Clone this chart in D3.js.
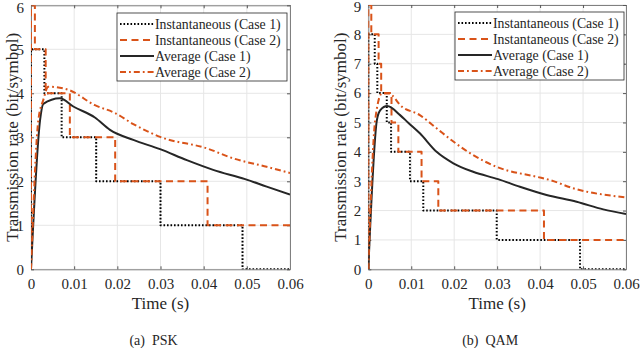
<!DOCTYPE html>
<html>
<head>
<meta charset="utf-8">
<script src="https://cdn.jsdelivr.net/npm/d3@7/dist/d3.min.js"></script>
<style>
html,body{margin:0;padding:0;background:#fff;}
svg{display:block;}
text{font-family:"Liberation Serif","Times New Roman",serif;fill:#262626;}
</style>
</head>
<body>
<svg id="chart" width="640" height="348"></svg>
<script>
// ---- data ----
const xTicks = [0, 0.01, 0.02, 0.03, 0.04, 0.05, 0.06];
const xTickLabels = ["0", "0.01", "0.02", "0.03", "0.04", "0.05", "0.06"];
const pskYTicks = [0, 1, 2, 3, 4, 5, 6];
const qamYTicks = [0, 1, 2, 3, 4, 5, 6, 7, 8, 9];
const seriesNames = ["Instantaneous (Case 1)", "Instantaneous (Case 2)", "Average (Case 1)", "Average (Case 2)"];
const captions = ["(a)  PSK", "(b)  QAM"];

// PSK, [time (s), rate]
const pskInst1 = [[0,0],[0,5],[0.0031,4],[0.0071,3],[0.0151,2],[0.0300,1],[0.0490,0],[0.06,0]];
const pskInst2 = [[0,0],[0,6],[0.0009,5],[0.0034,4],[0.0090,3],[0.0195,2],[0.0409,1],[0.06,1]];
const pskAvg1 = [[0,0],[0.0021,3.39],[0.00285,3.76],[0.0067,3.89],[0.0098,3.70],[0.0148,3.45],[0.0183,3.17],[0.0237,2.94],[0.0299,2.73],[0.0361,2.48],[0.0422,2.26],[0.0496,2.05],[0.0546,1.88],[0.06,1.70]];
const pskAvg2 = [[0,0],[0.0017,3.39],[0.00285,3.85],[0.0040,4.15],[0.0086,4.08],[0.0148,3.73],[0.0195,3.55],[0.0237,3.30],[0.0299,3.01],[0.0407,2.75],[0.0469,2.52],[0.0546,2.33],[0.06,2.19]];

// QAM, [time (s), rate]
const qamInst1 = [[0,0],[0,8],[0.0015,7],[0.0021,6],[0.0043,5],[0.0053,4],[0.0097,3],[0.0128,2],[0.0299,1],[0.0493,0],[0.06,0]];
const qamInst2 = [[0,0],[0,9],[0.0007,8],[0.0024,7],[0.0030,6],[0.0054,5],[0.0070,4],[0.0124,3],[0.0163,2],[0.0409,1],[0.06,1]];
const qamAvg1 = [[0,0],[0.0020,5.08],[0.0028,5.42],[0.0044,5.56],[0.0074,5.25],[0.0093,4.99],[0.0120,4.63],[0.0159,4.00],[0.0198,3.61],[0.0244,3.32],[0.0302,3.07],[0.0353,2.81],[0.0415,2.53],[0.0485,2.30],[0.0547,2.04],[0.06,1.88]];
const qamAvg2 = [[0,0],[0.0016,5.08],[0.0032,5.99],[0.0047,5.99],[0.0078,5.54],[0.0120,5.25],[0.0159,4.80],[0.0198,4.35],[0.0244,3.89],[0.0302,3.47],[0.0392,3.15],[0.0423,3.04],[0.0477,2.76],[0.06,2.45]];

// ---- drawing ----
const svg = d3.select("#chart");
const ORANGE = "#D95319";
const FONT = '"Liberation Serif", "Times New Roman", serif';
const styles = [
  {color:"#000", dash:"1.6,1.9", width:2, step:true},
  {color:ORANGE, dash:"7,4.5", width:2, step:true},
  {color:"#262626", dash:null, width:2, step:false},
  {color:ORANGE, dash:"6,3,1.8,3", width:2, step:false}
];

const panels = [
  {x0:31, x1:290, y0:269.3, y1:5.3, yMax:6, yTicks:pskYTicks, series:[pskInst1,pskInst2,pskAvg1,pskAvg2],
   legend:{x:117, y:13, w:170, h:68}, ylabelX:12, caption:captions[0]},
  {x0:368.3, x1:626, y0:269.3, y1:5, yMax:9, yTicks:qamYTicks, series:[qamInst1,qamInst2,qamAvg1,qamAvg2],
   legend:{x:455, y:12, w:169, h:68}, ylabelX:340, caption:captions[1]}
];

panels.forEach((p, i) => {
  const x = d3.scaleLinear().domain([0, 0.06]).range([p.x0, p.x1]);
  const y = d3.scaleLinear().domain([0, p.yMax]).range([p.y0, p.y1]);
  const g = svg.append("g");
  const clipId = "clip" + i;
  svg.append("clipPath").attr("id", clipId).append("rect")
    .attr("x", p.x0).attr("y", p.y1).attr("width", p.x1 - p.x0).attr("height", p.y0 - p.y1);

  // grid
  g.append("g").selectAll("line").data(xTicks).join("line")
    .attr("x1", d => x(d)).attr("x2", d => x(d)).attr("y1", p.y0).attr("y2", p.y1)
    .attr("stroke", "#e6e6e6").attr("stroke-width", 1);
  g.append("g").selectAll("line").data(p.yTicks).join("line")
    .attr("y1", d => y(d)).attr("y2", d => y(d)).attr("x1", p.x0).attr("x2", p.x1)
    .attr("stroke", "#e6e6e6").attr("stroke-width", 1);

  // axes (ticks inside)
  const xAxis = d3.axisBottom(x).tickValues(xTicks).tickFormat((d, k) => xTickLabels[k]).tickSizeInner(-3).tickSizeOuter(0).tickPadding(9);
  const ax = g.append("g").attr("transform", `translate(0,${p.y0})`).call(xAxis);
  const xAxisTop = d3.axisTop(x).tickValues(xTicks).tickFormat("").tickSizeInner(-3).tickSizeOuter(0);
  const axT = g.append("g").attr("transform", `translate(0,${p.y1})`).call(xAxisTop);
  const yAxis = d3.axisLeft(y).tickValues(p.yTicks).tickFormat(d3.format("d")).tickSizeInner(-3).tickSizeOuter(0).tickPadding(7);
  const ay = g.append("g").attr("transform", `translate(${p.x0},0)`).call(yAxis);
  const yAxisR = d3.axisRight(y).tickValues(p.yTicks).tickFormat("").tickSizeInner(-3).tickSizeOuter(0);
  const ayR = g.append("g").attr("transform", `translate(${p.x1},0)`).call(yAxisR);
  [ax, axT, ay, ayR].forEach(a => {
    a.attr("font-family", FONT);
    a.select(".domain").attr("stroke", "#808080").attr("stroke-width", 1);
    a.selectAll(".tick line").attr("stroke", "#555");
    a.selectAll("text").attr("font-size", 15).attr("fill", "#262626").attr("font-family", FONT);
  });
  // keep the top y tick label inside the picture
  ay.selectAll(".tick text").filter(d => d === p.yMax).attr("dy", "0.45em");

  // series
  const lg = g.append("g").attr("clip-path", `url(#${clipId})`);
  p.series.forEach((data, k) => {
    const st = styles[k];
    const line = d3.line().x(d => x(d[0])).y(d => y(d[1]))
      .curve(st.step ? d3.curveStepAfter : d3.curveMonotoneX);
    lg.append("path").datum(data).attr("d", line)
      .attr("fill", "none").attr("stroke", st.color).attr("stroke-width", st.width)
      .attr("stroke-dasharray", st.dash).attr("stroke-linejoin", "round");
  });

  // labels
  g.append("text").attr("x", (p.x0 + p.x1) / 2).attr("y", 309).attr("text-anchor", "middle")
    .attr("font-family", FONT).attr("font-size", 17).text("Time (s)");
  g.append("text").attr("transform", `translate(${p.ylabelX},${(p.y0 + p.y1) / 2}) rotate(-90)`)
    .attr("text-anchor", "middle").attr("dy", "0.35em").attr("font-size", 17).attr("font-family", FONT)
    .text("Transmission rate (bit/symbol)");
  g.append("text").attr("x", (p.x0 + p.x1) / 2 - 7).attr("y", 345).attr("text-anchor", "middle")
    .attr("font-family", FONT).attr("font-size", 14).attr("xml:space", "preserve").text(p.caption);

  // legend
  const L = p.legend;
  const lgd = g.append("g");
  lgd.append("rect").attr("x", L.x).attr("y", L.y).attr("width", L.w).attr("height", L.h)
    .attr("fill", "#fff").attr("stroke", "#262626").attr("stroke-width", 0.8);
  seriesNames.forEach((name, k) => {
    const st = styles[k];
    const yy = L.y + 11 + k * 16;
    lgd.append("line").attr("x1", L.x + 3).attr("x2", L.x + 37).attr("y1", yy).attr("y2", yy)
      .attr("stroke", st.color).attr("stroke-width", st.width).attr("stroke-dasharray", st.dash);
    lgd.append("text").attr("x", L.x + 38).attr("y", yy).attr("dy", "0.35em")
      .attr("font-family", FONT).attr("font-size", 13.8).text(name);
  });
});
</script>
</body>
</html>
